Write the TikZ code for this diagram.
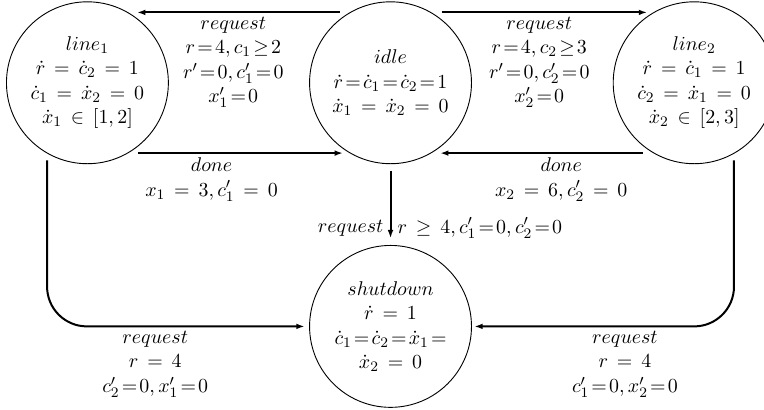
\documentclass[tikz,border=0pt]{standalone}
\usetikzlibrary{arrows.meta}
\thickmuskip=8mu plus 5mu

\begin{document}
\begin{tikzpicture}[font=\fontsize{11}{13.5}\selectfont,
  st/.style={draw, circle, line width=0.5pt, minimum size=31.3mm,
             inner sep=0pt, align=center},
  arr/.style={-{Latex[length=1.6mm,width=1.1mm]}, line width=1.1pt},
  lab/.style={align=center, inner sep=2pt},
]
\useasboundingbox (-7.55,1.6) rectangle (7.22,-6.31);
\node[st] (idle) at (0, 0)
  {$idle$\\ $\dot r\!\!=\!\!\dot c_1\!\!=\!\!\dot c_2\!\!=\!\!1$\\ $\dot x_1 = \dot x_2 = 0$};
\node[st] (line1) at (-5.86, 0)
  {$line_1$\\ $\dot r = \dot c_2 = 1$\\ $\dot c_1 = \dot x_2 = 0$\\ $\dot x_1 \in [1,2]$};
\node[st] (line2) at (5.87, 0)
  {$line_2$\\ $\dot r = \dot c_1 = 1$\\ $\dot c_2 = \dot x_1 = 0$\\ $\dot x_2 \in [2,3]$};
\node[st] (shut) at (0, -4.71)
  {$shutdown$\\ $\dot r = 1$\\ $\dot c_1\!\!=\!\!\dot c_2\!\!=\!\!\dot x_1\!\!=$\\ $\dot x_2 = 0$};
% idle <-> lines
\draw[arr] ([xshift=-9.8mm,yshift=13.6mm]idle.center) --
  node[lab, below, xshift=-1mm]
  {$request$\\ $r\!\!=\!\!4, c_1\!\!\geq\!\!2$\\ $r'\!\!=\!\!0, c'_1\!\!=\!\!0$\\ $x'_1\!\!=\!\!0$}
  ([xshift=9.6mm,yshift=13.6mm]line1.center);
\draw[arr] ([xshift=9.9mm,yshift=13.6mm]idle.center) --
  node[lab, below, xshift=-1mm]
  {$request$\\ $r\!\!=\!\!4, c_2\!\!\geq\!\!3$\\ $r'\!\!=\!\!0, c'_2\!\!=\!\!0$\\ $x'_2\!\!=\!\!0$}
  ([xshift=-9.1mm,yshift=13.6mm]line2.center);
\draw[arr] ([xshift=9.8mm,yshift=-13.6mm]line1.center) --
  node[lab, below, xshift=-5.6mm] {$done$\\ $x_1 = 3, c'_1 = 0$}
  ([xshift=-9.2mm,yshift=-13.6mm]idle.center);
\draw[arr] ([xshift=-9.9mm,yshift=-13.6mm]line2.center) --
  node[lab, below, xshift=3.8mm] {$done$\\ $x_2 = 6, c'_2 = 0$}
  ([xshift=9.6mm,yshift=-13.6mm]idle.center);
% to shutdown
\draw[arr, shorten <=1.3mm, shorten >=1.3mm] (idle) --
  node[pos=0.79, left] {$request$}
  node[pos=0.79, right] {$r \geq 4, c'_1\!\!=\!\!0, c'_2\!\!=\!\!0$} (shut);
\draw[arr, rounded corners=7.7mm] ([xshift=-7.8mm,yshift=-15mm]line1.center) |-
  node[lab, below, pos=0.71] {$request$\\ $r = 4$\\ $c'_2\!\!=\!\!0, x'_1\!\!=\!\!0$}
  ([xshift=-16.6mm]shut.center);
\draw[arr, rounded corners=7.7mm] ([xshift=7.7mm,yshift=-15mm]line2.center) |-
  node[lab, below, pos=0.71] {$request$\\ $r = 4$\\ $c'_1\!\!=\!\!0, x'_2\!\!=\!\!0$}
  ([xshift=16.2mm]shut.center);
\end{tikzpicture}
\end{document}
